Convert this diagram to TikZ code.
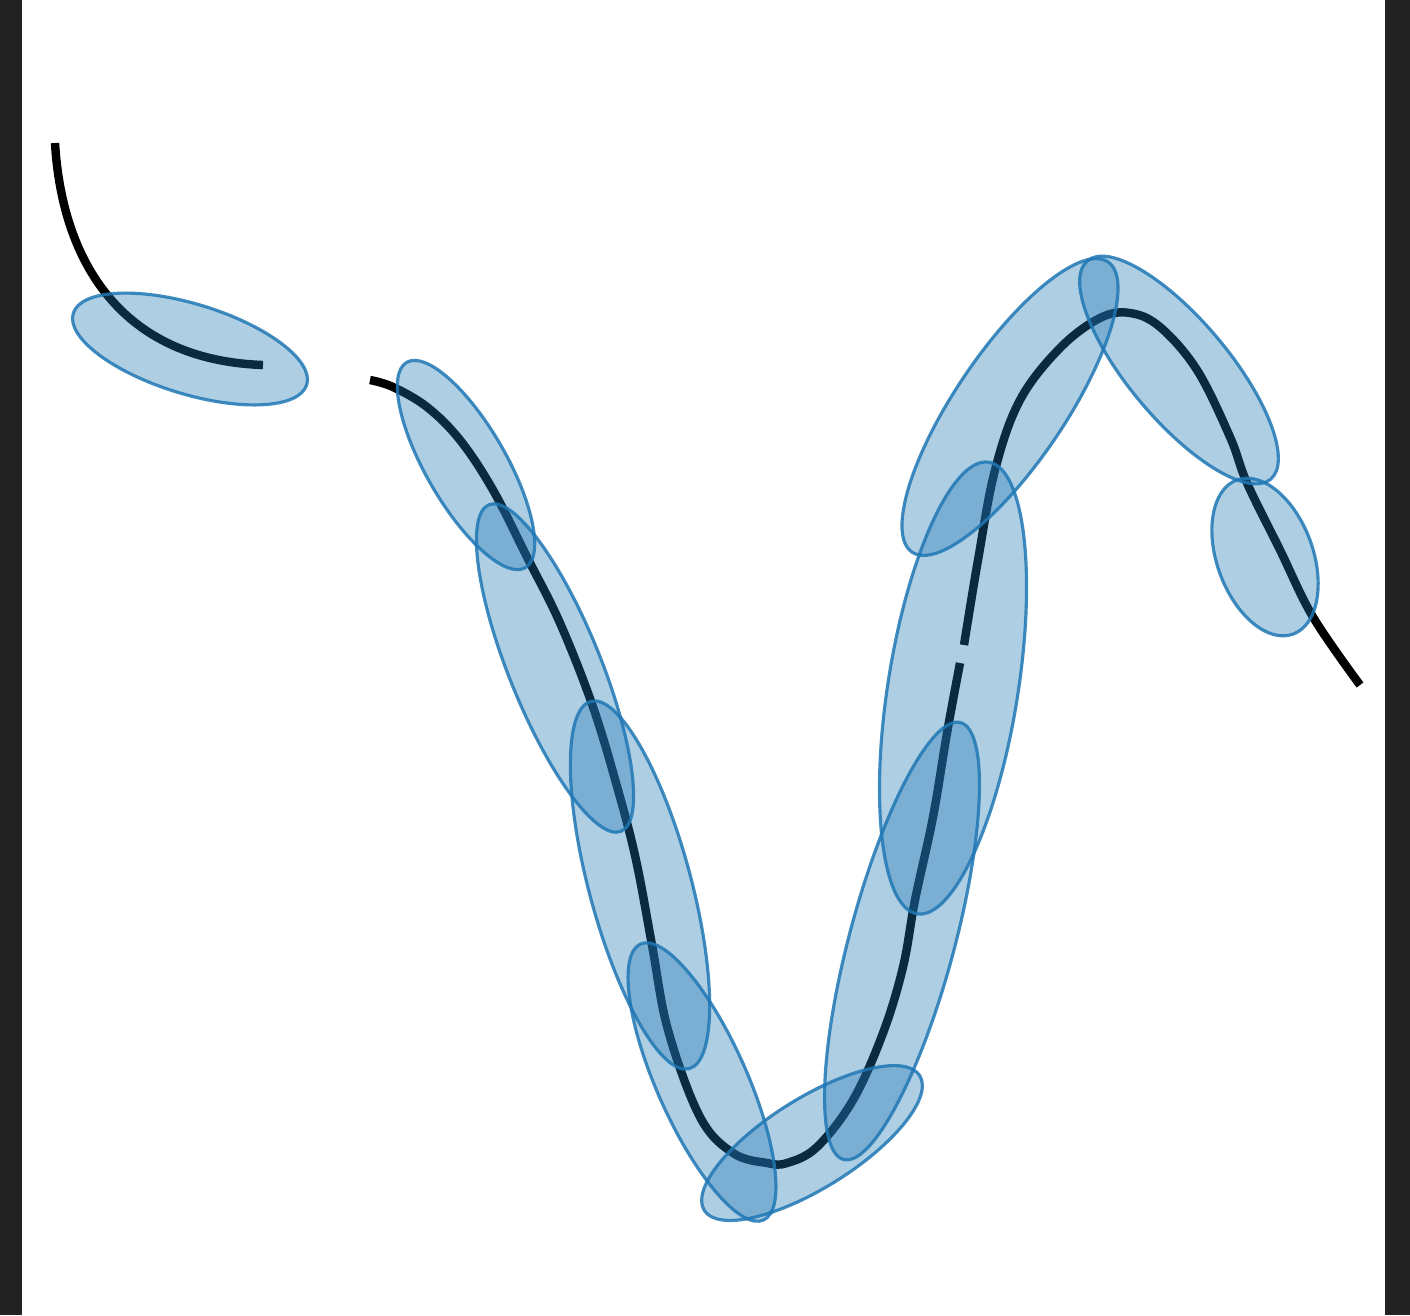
\documentclass[tikz,border=0pt]{standalone}
\usetikzlibrary{shapes.geometric}
\definecolor{blobblue}{RGB}{31,119,180}
\definecolor{sideband}{RGB}{34,34,34}

\begin{document}
\begin{tikzpicture}[
    x=0.01cm, y=-0.01cm,
    blob/.style={ellipse, draw=blobblue, line width=0.9pt, draw opacity=0.85, fill=blobblue, fill opacity=0.36, inner sep=0pt},
    trace/.style={black, line width=2.4pt}
]
\useasboundingbox (0,0) rectangle (1410,1315);
\fill[sideband] (0,0) rectangle (22,1315);
\fill[sideband] (1385,0) rectangle (1410,1315);
% black trace, drawn first so the blobs tint it
\draw[trace] (55,143) .. controls (62,260) and (120,360) .. (263,365);
\draw[trace] plot[smooth, tension=0.6] coordinates {(370,380) (393,387) (427,407) (460,440) (493,490) (527,557) (560,623) (593,707) (618,790) (636,860) (652,945) (668,1030) (700,1117) (733,1153) (767,1163) (787,1163) (817,1147) (853,1100) (883,1033) (903,967) (915,900) (933,817) (947,733) (960,663)};
\draw[trace] plot[smooth, tension=0.6] coordinates {(964,645) (978,560) (995,470) (1020,400) (1060,348) (1100,318) (1130,313) (1160,327) (1197,370) (1230,437) (1247,483) (1280,550) (1313,617) (1360,685)};
% blobs along the trace
\node (ba) [blob, minimum width=2.44cm, minimum height=0.90cm, rotate=-17] at (190,349) {};
\node (bb) [blob, minimum width=2.37cm, minimum height=0.80cm, rotate=-60] at (466,465) {};
\node (bd) [blob, minimum width=3.52cm, minimum height=0.92cm, rotate=-68] at (555,668) {};
\node (bf) [blob, minimum width=3.80cm, minimum height=1.02cm, rotate=-75] at (640,885) {};
\node (bh) [blob, minimum width=3.02cm, minimum height=0.90cm, rotate=-66] at (702,1082) {};
\node (bj) [blob, minimum width=2.54cm, minimum height=0.90cm, rotate=32] at (812,1143) {};
\node (bl) [blob, minimum width=4.52cm, minimum height=1.05cm, rotate=75] at (902,941) {};
\node (bn) [blob, minimum width=4.57cm, minimum height=1.30cm, rotate=81] at (953,688) {};
\node (bp) [blob, minimum width=3.50cm, minimum height=1.10cm, rotate=56] at (1010,407) {};
\node (br) [blob, minimum width=2.85cm, minimum height=1.00cm, rotate=-50] at (1179,370) {};
\node (bs) [blob, minimum width=1.64cm, minimum height=0.96cm, rotate=-70] at (1265,557) {};
\end{tikzpicture}
\end{document}
